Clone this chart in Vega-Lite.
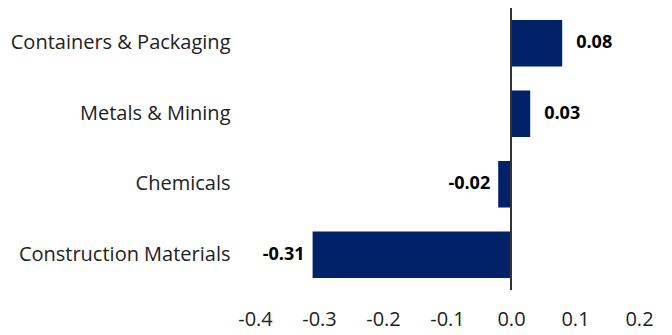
{
  "$schema": "https://vega.github.io/schema/vega-lite/v6.json",
  "width": 384,
  "height": 282,
  "autosize": {"type": "none"},
  "padding": {"left": 255, "top": 8, "right": 33, "bottom": 45},
  "background": "white",
  "config": {
    "view": {"stroke": null},
    "font": "Open Sans",
    "locale": {"number": {"decimal": ".", "thousands": ",", "grouping": [3], "currency": ["$", ""], "minus": "-"}}
  },
  "data": {
    "values": [
      {"category": "Containers & Packaging", "value": 0.08},
      {"category": "Metals & Mining", "value": 0.03},
      {"category": "Chemicals", "value": -0.02},
      {"category": "Construction Materials", "value": -0.31}
    ]
  },
  "layer": [
    {
      "layer": [
        {
          "mark": {"type": "bar", "color": "#012169"},
          "encoding": {
            "x": {
              "field": "value",
              "type": "quantitative",
              "scale": {"domain": [-0.4, 0.2], "nice": false},
              "axis": {
                "title": null,
                "domain": false,
                "ticks": false,
                "grid": false,
                "values": [-0.4, -0.3, -0.2, -0.1, 0, 0.1, 0.2],
                "format": ".1f",
                "labelFontSize": 20,
                "labelColor": "#222222",
                "labelPadding": 19,
                "labelFlush": false
              }
            }
          }
        },
        {
          "transform": [{"filter": "datum.value >= 0"}],
          "mark": {"type": "text", "align": "left", "dx": 14, "fontSize": 18, "fontWeight": "bold", "color": "#000000"},
          "encoding": {
            "x": {"field": "value", "type": "quantitative"},
            "text": {"field": "value", "type": "quantitative", "format": ".2f"}
          }
        },
        {
          "transform": [{"filter": "datum.value < 0"}],
          "mark": {"type": "text", "align": "right", "dx": -8, "fontSize": 18, "fontWeight": "bold", "color": "#000000"},
          "encoding": {
            "x": {"field": "value", "type": "quantitative"},
            "text": {"field": "value", "type": "quantitative", "format": ".2f"}
          }
        }
      ],
      "encoding": {
        "y": {
          "field": "category",
          "type": "nominal",
          "sort": null,
          "scale": {"paddingInner": 0.34, "paddingOuter": 0.17},
          "axis": {
            "title": null,
            "domain": false,
            "ticks": false,
            "labelFontSize": 20,
            "labelColor": "#222222",
            "labelPadding": 25,
            "labelLimit": 300
          }
        }
      }
    },
    {
      "data": {"values": [{"zero": 0}]},
      "mark": {"type": "rule", "color": "#333333", "strokeWidth": 2, "y": 0, "y2": 282},
      "encoding": {
        "x": {"field": "zero", "type": "quantitative"}
      }
    }
  ]
}
